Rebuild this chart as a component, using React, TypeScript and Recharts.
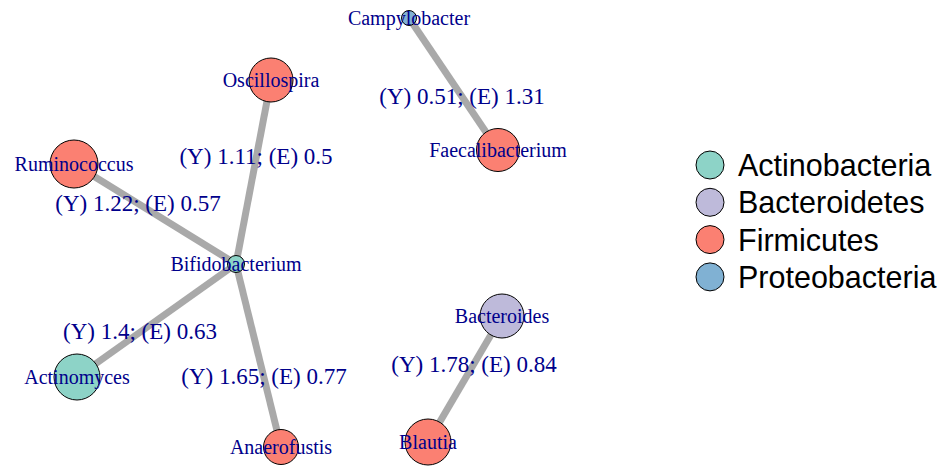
import React from "react";
import { ScatterChart, Scatter, XAxis, YAxis } from "recharts";

// network layout (igraph-like coordinates, y grows downward)
const nodeNames = [
  "Campylobacter",
  "Faecalibacterium",
  "Oscillospira",
  "Ruminococcus",
  "Bifidobacterium",
  "Actinomyces",
  "Anaerofustis",
  "Bacteroides",
  "Blautia",
];
const nodeX = [409, 498, 271, 74, 236, 77, 281, 502, 428];
const nodeY = [18, 150, 80, 164, 264, 377, 447, 316, 442];
const nodeSize = [7.5, 21.5, 22, 24, 8.5, 23, 17.5, 22, 23];
const nodePhylum = [
  "Proteobacteria",
  "Firmicutes",
  "Firmicutes",
  "Firmicutes",
  "Actinobacteria",
  "Actinobacteria",
  "Firmicutes",
  "Bacteroidetes",
  "Firmicutes",
];

const phyla = ["Actinobacteria", "Bacteroidetes", "Firmicutes", "Proteobacteria"];
const phylaColors = ["#8DD3C7", "#BEBADA", "#FB8072", "#80B1D3"];

const edgeFrom = ["Campylobacter", "Oscillospira", "Ruminococcus", "Actinomyces", "Anaerofustis", "Bacteroides"];
const edgeTo = ["Faecalibacterium", "Bifidobacterium", "Bifidobacterium", "Bifidobacterium", "Bifidobacterium", "Blautia"];
const edgeYield = ["0.51", "1.11", "1.22", "1.4", "1.65", "1.78"];
const edgeEffect = ["1.31", "0.5", "0.57", "0.63", "0.77", "0.84"];
const edgeLabelX = [462, 256, 138, 140, 264, 474];
const edgeLabelY = [96, 156, 203, 331, 376, 364];

const W = 941;
const H = 468;
const labelColor = "#00008B";
const serif = "'Liberation Serif', 'Times New Roman', serif";

const nodes = nodeNames.map((name, i) => ({
  name,
  x: nodeX[i],
  y: nodeY[i],
  size: nodeSize[i],
  color: phylaColors[phyla.indexOf(nodePhylum[i])],
}));

const edges = edgeFrom.map((from, i) => {
  const a = nodes.find((n) => n.name === from)!;
  const b = nodes.find((n) => n.name === edgeTo[i])!;
  return [
    { x: a.x, y: a.y },
    { x: b.x, y: b.y },
  ];
});

const edgeLabels = edgeYield.map((y, i) => ({
  x: edgeLabelX[i],
  y: edgeLabelY[i],
  text: `(Y) ${y}; (E) ${edgeEffect[i]}`,
}));

const NodeShape = (props: any) => {
  const { cx, cy, payload } = props;
  return <circle cx={cx} cy={cy} r={payload.size} fill={payload.color} stroke="#000" strokeWidth={1} />;
};

const NodeLabel = (props: any) => {
  const { cx, cy, payload } = props;
  return (
    <text x={cx} y={cy + 6.5} textAnchor="middle" fontFamily={serif} fontSize={20} fill={labelColor}>
      {payload.name}
    </text>
  );
};

const EdgeLabel = (props: any) => {
  const { cx, cy, payload } = props;
  return (
    <text x={cx} y={cy + 7.5} textAnchor="middle" fontFamily={serif} fontSize={23} fill={labelColor}>
      {payload.text}
    </text>
  );
};

// legend box starts at page y = 130, first row centred at y = 165
const PhylumLegend = () => (
  <svg width={246} height={190} style={{ position: "absolute", left: 694, top: 130 }}>
    {phyla.map((p, i) => (
      <g key={p}>
        <circle cx={16} cy={35 + i * 37.3} r={14} fill={phylaColors[i]} stroke="#000" strokeWidth={1} />
        <text
          x={44}
          y={35 + i * 37.3 + 11}
          fontFamily="'Liberation Sans', Arial, sans-serif"
          fontSize={30.5}
          fill="#000"
        >
          {p}
        </text>
      </g>
    ))}
  </svg>
);

export default function App() {
  return (
    <div style={{ position: "absolute", left: 0, top: 0, width: W, height: H, background: "#fff" }}>
      <ScatterChart width={W} height={H} margin={{ top: 0, right: 0, bottom: 0, left: 0 }}>
        <XAxis type="number" dataKey="x" domain={[0, W]} hide allowDataOverflow />
        <YAxis type="number" dataKey="y" domain={[0, H]} reversed hide allowDataOverflow />
        {edges.map((e, i) => (
          <Scatter
            key={`edge-${i}`}
            data={e}
            line={{ stroke: "#A9A9A9", strokeWidth: 7 }}
            shape={() => <g />}
            isAnimationActive={false}
          />
        ))}
        <Scatter data={nodes} shape={NodeShape} isAnimationActive={false} />
        <Scatter data={nodes} shape={NodeLabel} isAnimationActive={false} />
        <Scatter data={edgeLabels} shape={EdgeLabel} isAnimationActive={false} />
      </ScatterChart>
      <PhylumLegend />
    </div>
  );
}
